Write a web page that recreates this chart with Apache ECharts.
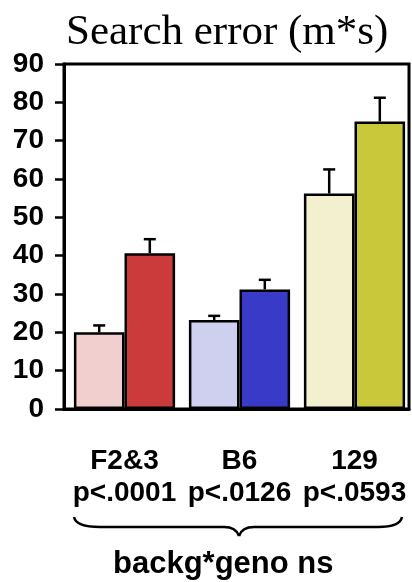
<!DOCTYPE html>
<html>
<head>
<meta charset="utf-8">
<script src="https://cdn.jsdelivr.net/npm/echarts@6/dist/echarts.min.js"></script>
<style>
html,body{margin:0;padding:0;background:#fff;}
#c{width:412px;height:582px;}
</style>
</head>
<body>
<div id="c"></div>
<script>
// ---- data ----
const backgrounds = ['F2&3', 'B6', '129'];
const pValues = ['p<.0001', 'p<.0126', 'p<.0593'];
const lightValues = [20.0, 23.2, 56.2];
const lightErrors = [1.8, 1.1, 6.3];
const darkValues = [40.6, 31.2, 75.0];
const darkErrors = [3.7, 2.5, 6.2];
const lightColors = ['#F2CFCF', '#CFCFF0', '#F2F0CF'];
const darkColors = ['#CB3B3B', '#3A3AC8', '#C9C83B'];
const yTicks = [0, 10, 20, 30, 40, 50, 60, 70, 80, 90];
const titleText = 'Search error (m*s)';
const footText = 'backg*geno ns';

const categories = backgrounds.map((b, i) => b + '\n' + pValues[i]);
const GAP = 0.12;

function errorSeries(values, errors, side) {
  return {
    type: 'custom',
    xAxisIndex: 1,
    yAxisIndex: 1,
    z: 5,
    data: values.map((v, i) => [i, v, v + errors[i]]),
    renderItem: function (params, api) {
      const i = api.value(0);
      const base = api.coord([i, api.value(1)]);
      const top = api.coord([i, api.value(2)]);
      const band = api.size([1, 0])[0];
      const barW = band * (1 - GAP) / 2;
      const cx = base[0] + side * barW / 2;
      const capHalf = 6;
      return {
        type: 'group',
        children: [
          { type: 'line', shape: { x1: cx, y1: base[1], x2: cx, y2: top[1] }, style: { stroke: '#000', lineWidth: 2.5 } },
          { type: 'line', shape: { x1: cx - capHalf, y1: top[1], x2: cx + capHalf, y2: top[1] }, style: { stroke: '#000', lineWidth: 2.5 } }
        ]
      };
    }
  };
}

const braceStyle = { stroke: '#000', lineWidth: 2.5, fill: null };
const chart = echarts.init(document.getElementById('c'), null, { renderer: 'canvas' });
chart.setOption({
  animation: false,
  backgroundColor: '#fff',
  title: [
    { text: titleText, left: 61, top: 6,
      textStyle: { fontFamily: 'Liberation Serif', fontWeight: 'normal', fontSize: 43, color: '#000' } },
    { text: footText, left: 108, top: 544,
      textStyle: { fontFamily: 'Liberation Sans', fontWeight: 'bold', fontSize: 31, color: '#000' } }
  ],
  grid: [
    { left: 64, top: 64, width: 345, height: 345, show: true, borderColor: '#000', borderWidth: 3, backgroundColor: 'transparent' },
    { left: 67, top: 64, width: 345, height: 345 }
  ],
  xAxis: [
    { type: 'category', gridIndex: 0, data: categories,
      axisLine: { show: true, lineStyle: { color: '#000', width: 3 } },
      axisTick: { show: false }, axisLabel: { show: false }, splitLine: { show: false } },
    { type: 'category', gridIndex: 1, data: categories,
      axisLine: { show: false }, axisTick: { show: false }, splitLine: { show: false },
      axisLabel: { show: true, margin: 36, color: '#000', fontFamily: 'Liberation Sans', fontWeight: 'bold', fontSize: 28, lineHeight: 32, interval: 0 } }
  ],
  yAxis: [
    { type: 'value', gridIndex: 0, min: yTicks[0], max: yTicks[yTicks.length - 1], interval: 10,
      axisLine: { show: true, lineStyle: { color: '#000', width: 3 } },
      axisTick: { show: true, inside: false, length: 9, lineStyle: { color: '#000', width: 2.5 } },
      axisLabel: { margin: 20, color: '#000', fontFamily: 'Liberation Sans', fontWeight: 'bold', fontSize: 28 },
      splitLine: { show: false } },
    { type: 'value', gridIndex: 1, min: yTicks[0], max: yTicks[yTicks.length - 1], interval: 10, show: false }
  ],
  series: [
    { type: 'bar', xAxisIndex: 1, yAxisIndex: 1, barGap: '0%', barCategoryGap: (GAP * 100) + '%',
      data: lightValues.map((v, i) => ({ value: v, itemStyle: { color: lightColors[i] } })),
      itemStyle: { borderColor: '#000', borderWidth: 2.5 } },
    { type: 'bar', xAxisIndex: 1, yAxisIndex: 1, barGap: '0%', barCategoryGap: (GAP * 100) + '%',
      data: darkValues.map((v, i) => ({ value: v, itemStyle: { color: darkColors[i] } })),
      itemStyle: { borderColor: '#000', borderWidth: 2.5 } },
    errorSeries(lightValues, lightErrors, -1),
    errorSeries(darkValues, darkErrors, 1)
  ],
  graphic: [
    { type: 'bezierCurve', silent: true, shape: { x1: 74, y1: 517, x2: 100, y2: 527, cpx1: 76, cpy1: 527 }, style: braceStyle },
    { type: 'line', silent: true, shape: { x1: 100, y1: 527, x2: 224, y2: 527 }, style: braceStyle },
    { type: 'bezierCurve', silent: true, shape: { x1: 224, y1: 527, x2: 239, y2: 536, cpx1: 236, cpy1: 527 }, style: braceStyle },
    { type: 'bezierCurve', silent: true, shape: { x1: 239, y1: 536, x2: 254, y2: 527, cpx1: 242, cpy1: 527 }, style: braceStyle },
    { type: 'line', silent: true, shape: { x1: 254, y1: 527, x2: 378, y2: 527 }, style: braceStyle },
    { type: 'bezierCurve', silent: true, shape: { x1: 378, y1: 527, x2: 402, y2: 517, cpx1: 400, cpy1: 527 }, style: braceStyle }
  ]
});
</script>
</body>
</html>
